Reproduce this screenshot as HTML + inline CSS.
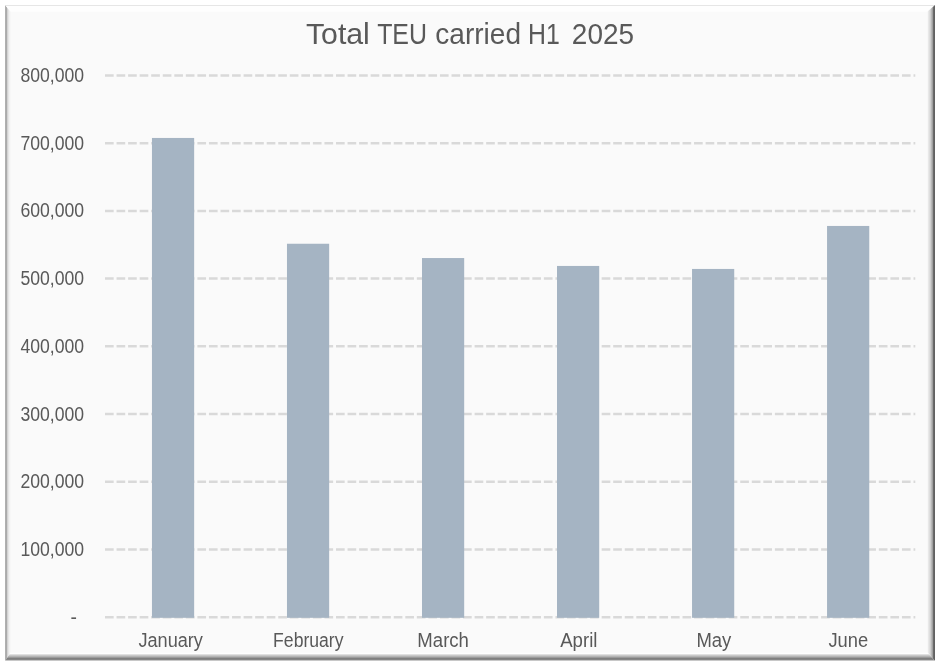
<!DOCTYPE html>
<html><head><meta charset="utf-8"><style>
html,body{margin:0;padding:0;background:#fff;width:940px;height:666px;overflow:hidden}
svg{display:block;will-change:transform}
text{font-family:"Liberation Sans",sans-serif;fill:#595959;stroke:none;stroke-width:0px}
</style></head><body>
<svg width="940" height="666" viewBox="0 0 940 666">
<defs><linearGradient id="gl" gradientUnits="userSpaceOnUse" x1="5" y1="0" x2="11" y2="0"><stop offset="0.0000" stop-color="#b0b0b0"/><stop offset="0.1667" stop-color="#b0b0b0"/><stop offset="0.1667" stop-color="#ababab"/><stop offset="0.3333" stop-color="#ababab"/><stop offset="0.3333" stop-color="#d4d4d4"/><stop offset="0.5000" stop-color="#d4d4d4"/><stop offset="0.5000" stop-color="#e6e6e6"/><stop offset="0.6667" stop-color="#e6e6e6"/><stop offset="0.6667" stop-color="#f2f2f2"/><stop offset="0.8333" stop-color="#f2f2f2"/><stop offset="0.8333" stop-color="#f7f7f7"/><stop offset="1.0000" stop-color="#f7f7f7"/></linearGradient><linearGradient id="gt" gradientUnits="userSpaceOnUse" x1="0" y1="5" x2="0" y2="12"><stop offset="0.0000" stop-color="#e6e6e6"/><stop offset="0.1429" stop-color="#e6e6e6"/><stop offset="0.1429" stop-color="#fefefe"/><stop offset="0.2857" stop-color="#fefefe"/><stop offset="0.2857" stop-color="#fefefe"/><stop offset="0.4286" stop-color="#fefefe"/><stop offset="0.4286" stop-color="#fefefe"/><stop offset="0.5714" stop-color="#fefefe"/><stop offset="0.5714" stop-color="#fefefe"/><stop offset="0.7143" stop-color="#fefefe"/><stop offset="0.7143" stop-color="#fefefe"/><stop offset="0.8571" stop-color="#fefefe"/><stop offset="0.8571" stop-color="#fdfdfd"/><stop offset="1.0000" stop-color="#fdfdfd"/></linearGradient><linearGradient id="gr" gradientUnits="userSpaceOnUse" x1="927" y1="0" x2="935" y2="0"><stop offset="0.0000" stop-color="#f7f7f7"/><stop offset="0.1250" stop-color="#f7f7f7"/><stop offset="0.1250" stop-color="#e8e8e8"/><stop offset="0.2500" stop-color="#e8e8e8"/><stop offset="0.2500" stop-color="#dedede"/><stop offset="0.3750" stop-color="#dedede"/><stop offset="0.3750" stop-color="#d0d0d0"/><stop offset="0.5000" stop-color="#d0d0d0"/><stop offset="0.5000" stop-color="#b8b8b8"/><stop offset="0.6250" stop-color="#b8b8b8"/><stop offset="0.6250" stop-color="#a0a0a0"/><stop offset="0.7500" stop-color="#a0a0a0"/><stop offset="0.7500" stop-color="#6a6a6a"/><stop offset="0.8750" stop-color="#6a6a6a"/><stop offset="0.8750" stop-color="#616161"/><stop offset="1.0000" stop-color="#616161"/></linearGradient><linearGradient id="gb" gradientUnits="userSpaceOnUse" x1="0" y1="652" x2="0" y2="661"><stop offset="0.0000" stop-color="#fbfbfb"/><stop offset="0.1111" stop-color="#fbfbfb"/><stop offset="0.1111" stop-color="#fefefe"/><stop offset="0.2222" stop-color="#fefefe"/><stop offset="0.2222" stop-color="#e0e0e0"/><stop offset="0.3333" stop-color="#e0e0e0"/><stop offset="0.3333" stop-color="#c8c8c8"/><stop offset="0.4444" stop-color="#c8c8c8"/><stop offset="0.4444" stop-color="#b4b4b4"/><stop offset="0.5556" stop-color="#b4b4b4"/><stop offset="0.5556" stop-color="#9a9a9a"/><stop offset="0.6667" stop-color="#9a9a9a"/><stop offset="0.6667" stop-color="#7f7f7f"/><stop offset="0.7778" stop-color="#7f7f7f"/><stop offset="0.7778" stop-color="#868686"/><stop offset="0.8889" stop-color="#868686"/><stop offset="0.8889" stop-color="#c8c8c8"/><stop offset="1.0000" stop-color="#c8c8c8"/></linearGradient></defs>
<rect x="5" y="5" width="930" height="656" fill="#fafafa"/>
<polygon points="5,5 11,12 11,652 5,661" fill="url(#gl)"/>
<polygon points="5,5 935,5 927,12 11,12" fill="url(#gt)"/>
<polygon points="935,5 935,661 927,652 927,12" fill="url(#gr)"/>
<polygon points="5,661 11,652 927,652 935,661" fill="url(#gb)"/>
<line x1="105.0" y1="617.35" x2="915.3" y2="617.35" stroke="#d9d9d9" stroke-width="2.5" stroke-dasharray="8.66 2.89"/>
<line x1="105.0" y1="549.61" x2="915.3" y2="549.61" stroke="#d9d9d9" stroke-width="2.5" stroke-dasharray="8.66 2.89"/>
<line x1="105.0" y1="481.86" x2="915.3" y2="481.86" stroke="#d9d9d9" stroke-width="2.5" stroke-dasharray="8.66 2.89"/>
<line x1="105.0" y1="414.12" x2="915.3" y2="414.12" stroke="#d9d9d9" stroke-width="2.5" stroke-dasharray="8.66 2.89"/>
<line x1="105.0" y1="346.37" x2="915.3" y2="346.37" stroke="#d9d9d9" stroke-width="2.5" stroke-dasharray="8.66 2.89"/>
<line x1="105.0" y1="278.62" x2="915.3" y2="278.62" stroke="#d9d9d9" stroke-width="2.5" stroke-dasharray="8.66 2.89"/>
<line x1="105.0" y1="210.88" x2="915.3" y2="210.88" stroke="#d9d9d9" stroke-width="2.5" stroke-dasharray="8.66 2.89"/>
<line x1="105.0" y1="143.13" x2="915.3" y2="143.13" stroke="#d9d9d9" stroke-width="2.5" stroke-dasharray="8.66 2.89"/>
<line x1="105.0" y1="75.39" x2="915.3" y2="75.39" stroke="#d9d9d9" stroke-width="2.5" stroke-dasharray="8.66 2.89"/>

<rect x="151.95" y="137.95" width="42.2" height="479.85" fill="#a5b4c3"/>
<rect x="286.97" y="243.75" width="42.2" height="374.05" fill="#a5b4c3"/>
<rect x="421.99" y="258.04" width="42.2" height="359.76" fill="#a5b4c3"/>
<rect x="557.01" y="265.94" width="42.2" height="351.86" fill="#a5b4c3"/>
<rect x="692.03" y="268.94" width="42.2" height="348.86" fill="#a5b4c3"/>
<rect x="827.05" y="225.95" width="42.2" height="391.85" fill="#a5b4c3"/>

<text x="305.93" y="44.00" font-size="29" textLength="63.93" lengthAdjust="spacingAndGlyphs">Total</text>
<text x="377.16" y="44.00" font-size="29" textLength="49.82" lengthAdjust="spacingAndGlyphs">TEU</text>
<text x="435.24" y="44.00" font-size="29" textLength="85.83" lengthAdjust="spacingAndGlyphs">carried</text>
<text x="528.10" y="44.00" font-size="29" textLength="31.76" lengthAdjust="spacingAndGlyphs">H1</text>
<text x="571.84" y="44.00" font-size="29" textLength="62.20" lengthAdjust="spacingAndGlyphs">2025</text>
<text x="20.38" y="556.21" font-size="19.3" textLength="63.69" lengthAdjust="spacingAndGlyphs">100,000</text>
<text x="20.38" y="488.46" font-size="19.3" textLength="63.69" lengthAdjust="spacingAndGlyphs">200,000</text>
<text x="20.38" y="420.72" font-size="19.3" textLength="63.69" lengthAdjust="spacingAndGlyphs">300,000</text>
<text x="20.38" y="352.97" font-size="19.3" textLength="63.69" lengthAdjust="spacingAndGlyphs">400,000</text>
<text x="20.38" y="285.23" font-size="19.3" textLength="63.69" lengthAdjust="spacingAndGlyphs">500,000</text>
<text x="20.38" y="217.48" font-size="19.3" textLength="63.69" lengthAdjust="spacingAndGlyphs">600,000</text>
<text x="20.38" y="149.73" font-size="19.3" textLength="63.69" lengthAdjust="spacingAndGlyphs">700,000</text>
<text x="20.38" y="81.99" font-size="19.3" textLength="63.69" lengthAdjust="spacingAndGlyphs">800,000</text>
<text x="70.59" y="623.95" font-size="19.3">-</text>
<text x="138.43" y="646.70" font-size="19.6" textLength="64.52" lengthAdjust="spacingAndGlyphs">January</text>
<text x="273.09" y="646.70" font-size="19.6" textLength="70.46" lengthAdjust="spacingAndGlyphs">February</text>
<text x="417.37" y="646.70" font-size="19.6" textLength="51.60" lengthAdjust="spacingAndGlyphs">March</text>
<text x="560.19" y="646.70" font-size="19.6" textLength="37.26" lengthAdjust="spacingAndGlyphs">April</text>
<text x="696.39" y="646.70" font-size="19.6" textLength="34.90" lengthAdjust="spacingAndGlyphs">May</text>
<text x="828.42" y="646.70" font-size="19.6" textLength="39.70" lengthAdjust="spacingAndGlyphs">June</text>

</svg>
</body></html>
